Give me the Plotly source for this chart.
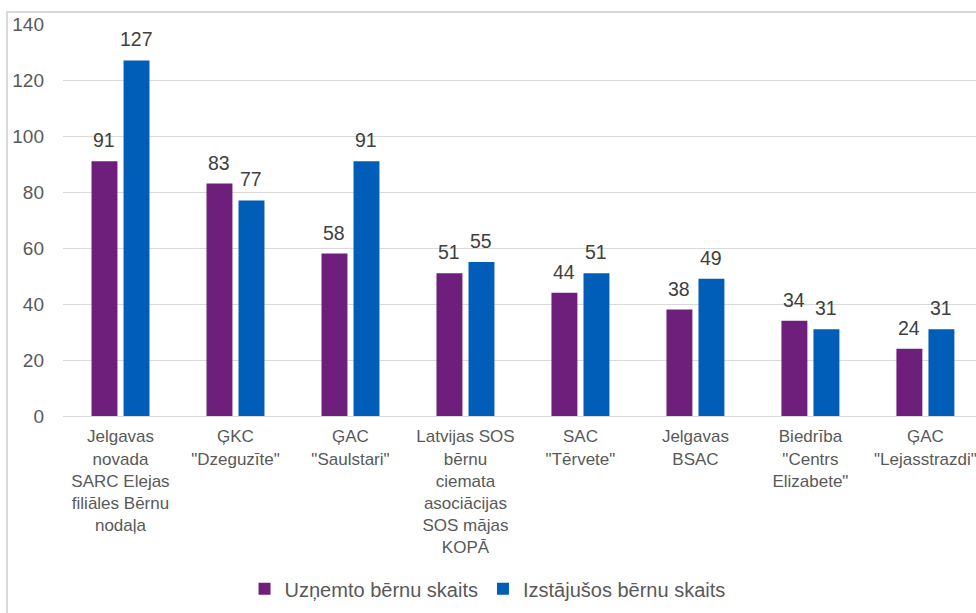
import plotly.graph_objects as go

categories = [
    "Jelgavas<br>novada<br>SARC Elejas<br>filiāles Bērnu<br>nodaļa",
    "ĢKC<br>\"Dzeguzīte\"",
    "ĢAC<br>\"Saulstari\"",
    "Latvijas SOS<br>bērnu<br>ciemata<br>asociācijas<br>SOS mājas<br>KOPĀ",
    "SAC<br>\"Tērvete\"",
    "Jelgavas<br>BSAC",
    "Biedrība<br>\"Centrs<br>Elizabete\"",
    "ĢAC<br>\"Lejasstrazdi\"",
]
admitted = [91, 83, 58, 51, 44, 38, 34, 24]
left = [127, 77, 91, 55, 51, 49, 31, 31]
series_names = ["Uzņemto bērnu skaits", "Izstājušos bērnu skaits"]
y_ticks = [0, 20, 40, 60, 80, 100, 120, 140]

PURPLE = "#6E1F7B"
BLUE = "#005EB8"
FONT = "Liberation Sans, Arial, sans-serif"

fig = go.Figure()
fig.add_trace(go.Bar(x=categories, y=admitted, name=series_names[0],
                     marker=dict(color=PURPLE, line=dict(width=0))))
fig.add_trace(go.Bar(x=categories, y=left, name=series_names[1],
                     marker=dict(color=BLUE, line=dict(width=0))))

annotations = []
for vals, shift in ((admitted, -16), (left, 16)):
    for c, v in zip(categories, vals):
        annotations.append(dict(x=c, y=v, text=str(v), showarrow=False,
                                xref="x", yref="y", xshift=shift, yshift=8,
                                yanchor="bottom",
                                font=dict(family=FONT, size=19.5, color="#404040")))

fig.update_layout(
    width=976, height=613,
    margin=dict(l=63, r=0, t=24, b=197),
    paper_bgcolor="white", plot_bgcolor="white",
    barmode="group", bargap=0.443, bargroupgap=0.19,
    font=dict(family=FONT, size=17, color="#595959"),
    showlegend=True,
    legend=dict(orientation="h", x=0.465, xanchor="center", y=-0.441, yanchor="middle",
                font=dict(family=FONT, size=20, color="#595959"),
                itemwidth=30, traceorder="normal"),
    annotations=annotations,
    shapes=[dict(type="rect", xref="paper", yref="paper",
                 x0=-0.0613, x1=1.2, y0=-0.6, y1=1.0306,
                 line=dict(color="#D9D9D9", width=2), layer="below")],
)
fig.update_xaxes(range=[-0.5, 7.44], showgrid=False, showline=True,
                 linecolor="#D9D9D9", linewidth=1, ticks="",
                 ticklabelstandoff=5,
                 tickfont=dict(family=FONT, size=17, color="#595959"))
fig.update_yaxes(range=[0, 140], tickvals=y_ticks, showgrid=True,
                 gridcolor="#D9D9D9", gridwidth=1, zeroline=False,
                 showline=False, ticks="", ticklabelstandoff=18,
                 tickfont=dict(family=FONT, size=19, color="#595959"))

fig.write_html("out.html", config={"displayModeBar": False},
               post_script="document.body.style.margin='0px';")
